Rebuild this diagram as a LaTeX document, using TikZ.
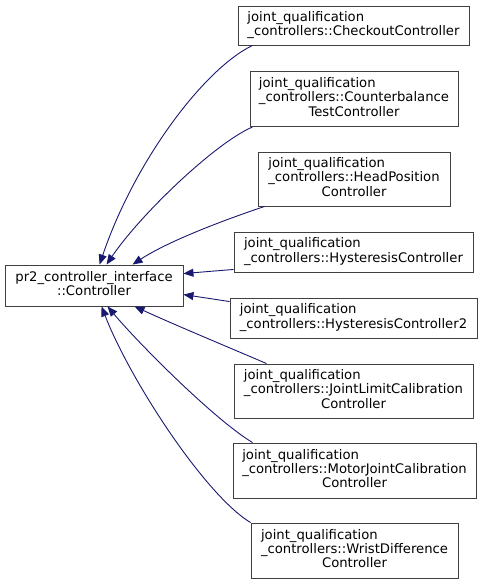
\documentclass[tikz,border=0pt]{standalone}
\usepackage{fontspec}
\setmainfont{DejaVu Sans}
\usetikzlibrary{arrows.meta,calc}
\definecolor{edgeblue}{HTML}{191970}
\definecolor{boxgray}{HTML}{404040}
\newcommand\Lrow[1]{\multicolumn{1}{@{}l@{}}{#1}}
\newcommand\Ltxt[1]{{\fontsize{13.2bp}{14.3bp}\selectfont\begin{tabular}{@{}c@{}}#1\end{tabular}}}
\tikzset{
  cls/.style={draw=boxgray, line width=0.9bp, fill=white, inner sep=0pt, minimum height=40bp},
  cls3/.style={cls, minimum height=55bp},
  inh/.style={draw=edgeblue, line width=0.9bp, -{Triangle[length=10bp,width=8bp]}}
}
\begin{document}
\begin{tikzpicture}[x=1bp,y=-1bp]
\useasboundingbox[fill=white] (0,0) rectangle (483,585);
\node[cls, minimum width=178bp, minimum height=41bp] (base) at (94,285.5) {\Ltxt{\Lrow{pr2\_controller\_interface}\\::Controller}};
\node[cls, minimum width=231bp, minimum height=39bp] (co) at (353.5,25.5) {\Ltxt{\Lrow{joint\_qualification}\\\_controllers::CheckoutController}};
\node[cls3, minimum width=208bp] (cb) at (354,99) {\Ltxt{\Lrow{joint\_qualification}\\\Lrow{\_controllers::Counterbalance}\\TestController}};
\node[cls3, minimum width=192bp, minimum height=54bp] (hp) at (354,179) {\Ltxt{\Lrow{joint\_qualification}\\\Lrow{\_controllers::HeadPosition}\\Controller}};
\node[cls, minimum width=239bp] (hy) at (353.5,252) {\Ltxt{\Lrow{joint\_qualification}\\\_controllers::HysteresisController}};
\node[cls, minimum width=247bp] (hy2) at (353.5,318) {\Ltxt{\Lrow{joint\_qualification}\\\_controllers::HysteresisController2}};
\node[cls3, minimum width=239bp, minimum height=54bp] (jl) at (353.5,391) {\Ltxt{\Lrow{joint\_qualification}\\\Lrow{\_controllers::JointLimitCalibration}\\Controller}};
\node[cls3, minimum width=243bp] (mj) at (354.5,470.5) {\Ltxt{\Lrow{joint\_qualification}\\\Lrow{\_controllers::MotorJointCalibration}\\Controller}};
\node[cls3, minimum width=207bp] (wd) at (354.5,550.5) {\Ltxt{\Lrow{joint\_qualification}\\\Lrow{\_controllers::WristDifference}\\Controller}};
% edges
\draw[inh] ($(co.south west)+(15,0)$) .. controls (205,68) and (135,160) .. ($(base.north west)+(95,0)$);
\draw[inh] ($(cb.south west)+(3,0)$) .. controls (215,143) and (140,215) .. ($(base.north west)+(102,0)$);
\draw[inh] ($(hp.south west)+(7,0)$) .. controls (230,218) and (170,240) .. ($(base.north west)+(128,0)$);
\draw[inh] ($(hy.south west)+(0,-3)$) -- ($(base.north east)+(0,9)$);
\draw[inh] ($(hy2.north west)+(0,4)$) -- ($(base.north east)+(0,30)$);
\draw[inh] ($(jl.north west)+(33,0)$) .. controls (235,350) and (175,325) .. ($(base.south west)+(130,0)$);
\draw[inh] ($(mj.north west)+(20,0)$) .. controls (215,420) and (140,345) .. ($(base.south west)+(103,0)$);
\draw[inh] (wd.north west) .. controls (205,495) and (130,380) .. ($(base.south west)+(97,0)$);
\end{tikzpicture}
\end{document}
